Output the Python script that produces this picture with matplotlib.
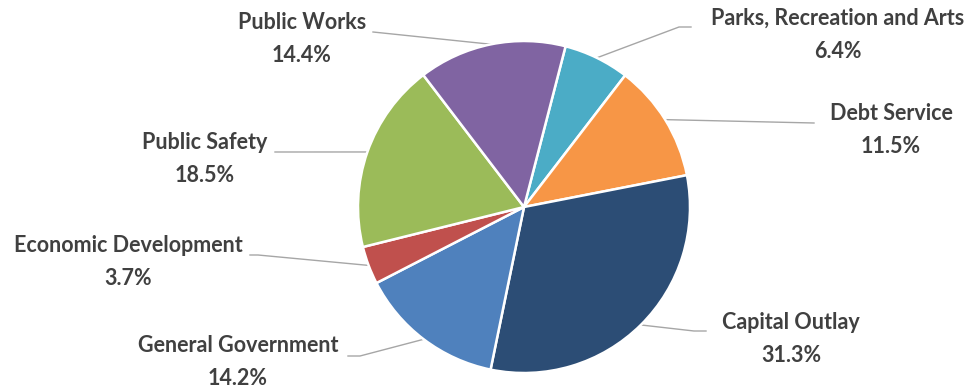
import matplotlib
matplotlib.use("Agg")
import matplotlib.pyplot as plt
import numpy as np

# General fund expenditure shares (%), clockwise from the top
categories = ["Parks, Recreation and Arts", "Debt Service", "Capital Outlay",
              "General Government", "Economic Development", "Public Safety",
              "Public Works"]
shares = [6.4, 11.5, 31.3, 14.2, 3.7, 18.5, 14.4]

colors = ["#4BACC6", "#F79646", "#2C4D75", "#4F81BD", "#C0504D", "#9BBB59", "#8064A2"]

W, H = 972, 388

# label centre (pixels, top-left origin) and elbow points of the leader lines
label_pos = [(838, 35), (891, 130), (791, 339), (238, 362), (128, 262), (205, 159), (302, 39)]
elbows = [[(691, 27), (679, 27)], [(814, 123)], [(706, 331), (694, 331)],
          [(348, 356), (360, 356)], [(250, 255), (258, 255)], [(275, 152)], [(373, 32)]]


def fy(y):
    return H - y


fig = plt.figure(figsize=(W / 100, H / 100), dpi=100)
ax = fig.add_axes([0, 0, 1, 1])

wedges, _ = ax.pie(shares, colors=colors, startangle=75.5, counterclock=False,
                   center=(524, fy(207)), radius=166, frame=True,
                   wedgeprops=dict(edgecolor="white", linewidth=1.8))
ax.set_xlim(0, W)
ax.set_ylim(0, H)
ax.set_aspect("equal")
ax.axis("off")

for w, name, val, (lx, ly), elb in zip(wedges, categories, shares, label_pos, elbows):
    mid = np.deg2rad((w.theta1 + w.theta2) / 2)
    cx, cy = w.center
    px, py = cx + w.r * np.cos(mid), cy + w.r * np.sin(mid)
    xs = [px] + [e[0] for e in elb[::-1]]
    ys = [py] + [fy(e[1]) for e in elb[::-1]]
    ax.plot(xs, ys, color="#A6A6A6", linewidth=1.0, zorder=0.5)
    ax.text(lx, fy(ly), f"{name}\n{val:.1f}%", ha="center", va="center",
            fontsize=15.5, fontweight="bold", family="Lato", color="#404040",
            linespacing=1.7)

fig.savefig("out.png", dpi=100)
